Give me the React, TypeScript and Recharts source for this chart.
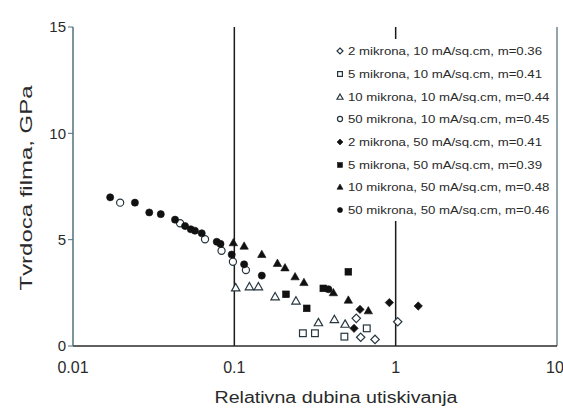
import React from 'react'
import { ScatterChart, Scatter, XAxis, YAxis, ReferenceLine } from 'recharts'

// x = relative indentation depth, y = film hardness (GPa)
const open2um10 = [
  { x: 0.57, y: 1.3 },
  { x: 0.607, y: 0.41 },
  { x: 0.745, y: 0.31 },
  { x: 1.03, y: 1.14 },
]
const open5um10 = [
  { x: 0.266, y: 0.6 },
  { x: 0.316, y: 0.6 },
  { x: 0.481, y: 0.44 },
  { x: 0.662, y: 0.83 },
]
const open10um10 = [
  { x: 0.102, y: 2.74 },
  { x: 0.124, y: 2.79 },
  { x: 0.141, y: 2.79 },
  { x: 0.179, y: 2.32 },
  { x: 0.241, y: 2.12 },
  { x: 0.332, y: 1.1 },
  { x: 0.417, y: 1.25 },
  { x: 0.486, y: 1.03 },
]
const open50um10 = [
  { x: 0.0196, y: 6.74 },
  { x: 0.0461, y: 5.77 },
  { x: 0.0658, y: 5.02 },
  { x: 0.0833, y: 4.48 },
  { x: 0.098, y: 3.96 },
  { x: 0.118, y: 3.57 },
]
const filled2um50 = [
  { x: 0.552, y: 0.83 },
  { x: 0.601, y: 1.72 },
  { x: 0.914, y: 2.04 },
  { x: 1.38, y: 1.88 },
]
const filled5um50 = [
  { x: 0.209, y: 2.43 },
  { x: 0.281, y: 1.77 },
  { x: 0.356, y: 2.71 },
  { x: 0.509, y: 3.49 },
]
const filled10um50 = [
  { x: 0.0986, y: 4.86 },
  { x: 0.115, y: 4.7 },
  { x: 0.148, y: 4.31 },
  { x: 0.185, y: 3.89 },
  { x: 0.206, y: 3.68 },
  { x: 0.238, y: 3.26 },
  { x: 0.27, y: 2.99 },
  { x: 0.411, y: 2.51 },
  { x: 0.509, y: 2.16 },
  { x: 0.677, y: 1.66 },
]
const filled50um50 = [
  { x: 0.017, y: 6.99 },
  { x: 0.0242, y: 6.74 },
  { x: 0.0297, y: 6.28 },
  { x: 0.035, y: 6.2 },
  { x: 0.0429, y: 5.94 },
  { x: 0.0495, y: 5.64 },
  { x: 0.0537, y: 5.49 },
  { x: 0.057, y: 5.42 },
  { x: 0.0628, y: 5.3 },
  { x: 0.0778, y: 4.9 },
  { x: 0.0821, y: 4.8 },
  { x: 0.0963, y: 4.3 },
  { x: 0.115, y: 3.84 },
  { x: 0.148, y: 3.31 },
  { x: 0.383, y: 2.67 },
]

const xTicks = [0.01, 0.1, 1, 10]
const xTickLabels = ['0.01', '0.1', '1', '10']
const yTicks = [0, 5, 10, 15]

const legendLabels = [
  '2 mikrona, 10 mA/sq.cm, m=0.36',
  '5 mikrona, 10 mA/sq.cm, m=0.41',
  '10 mikrona, 10 mA/sq.cm, m=0.44',
  '50 mikrona, 10 mA/sq.cm, m=0.45',
  '2 mikrona, 50 mA/sq.cm, m=0.41',
  '5 mikrona, 50 mA/sq.cm, m=0.39',
  '10 mikrona, 50 mA/sq.cm, m=0.48',
  '50 mikrona, 50 mA/sq.cm, m=0.46',
]

type Kind = 'diamond' | 'square' | 'triangle' | 'circle'

const INK = '#111111'
const OUTLINE = '#26353d'
const font = 'Liberation Sans, Arial, sans-serif'

function marker(kind: Kind, filled: boolean, cx: number, cy: number, s: number) {
  const fill = filled ? INK : '#ffffff'
  const stroke = filled ? INK : OUTLINE
  const sw = filled ? 0.6 : 1.2
  if (kind === 'circle') return <circle cx={cx} cy={cy} r={s * 0.85} fill={fill} stroke={stroke} strokeWidth={sw} />
  if (kind === 'square')
    return <rect x={cx - s * 0.8} y={cy - s * 0.8} width={s * 1.6} height={s * 1.6} fill={fill} stroke={stroke} strokeWidth={sw} />
  if (kind === 'triangle') {
    const h = s * 1.0
    return (
      <polygon
        points={`${cx},${cy - h} ${cx + h},${cy + h * 0.75} ${cx - h},${cy + h * 0.75}`}
        fill={fill}
        stroke={stroke}
        strokeWidth={sw}
      />
    )
  }
  return (
    <polygon
      points={`${cx},${cy - s} ${cx + s},${cy} ${cx},${cy + s} ${cx - s},${cy}`}
      fill={fill}
      stroke={stroke}
      strokeWidth={sw}
    />
  )
}

const series: { data: { x: number; y: number }[]; kind: Kind; filled: boolean }[] = [
  { data: open2um10, kind: 'diamond', filled: false },
  { data: open5um10, kind: 'square', filled: false },
  { data: open10um10, kind: 'triangle', filled: false },
  { data: open50um10, kind: 'circle', filled: false },
  { data: filled2um50, kind: 'diamond', filled: true },
  { data: filled5um50, kind: 'square', filled: true },
  { data: filled10um50, kind: 'triangle', filled: true },
  { data: filled50um50, kind: 'circle', filled: true },
]

function LegendBox() {
  return (
    <div
      style={{
        position: 'absolute',
        left: 332,
        top: 39,
        width: 224,
        height: 182,
        background: '#ffffff',
        paddingTop: 1,
        boxSizing: 'border-box',
      }}
    >
      {legendLabels.map((label, i) => (
        <div key={label} style={{ height: 22.7, display: 'flex', alignItems: 'center' }}>
          <svg width={14} height={12} style={{ flex: 'none' }}>
            {marker(series[i].kind, series[i].filled, 8, 6, 3)}
          </svg>
          <span
            style={{
              fontFamily: font,
              fontSize: 11,
              color: '#2a2a2a',
              whiteSpace: 'nowrap',
              display: 'inline-block',
              transform: 'scaleX(1.2)',
              transformOrigin: 'left center',
              marginLeft: 2,
            }}
          >
            {label}
          </span>
        </div>
      ))}
    </div>
  )
}

export default function App() {
  return (
    <div style={{ position: 'absolute', left: 0, top: 0, width: 563, height: 408, background: '#fff', overflow: 'hidden' }}>
      <ScatterChart width={563} height={408} margin={{ top: 27, right: 6, bottom: 22, left: 0 }}>
        <XAxis
          type="number"
          dataKey="x"
          scale="log"
          domain={[0.01, 10]}
          ticks={xTicks}
          allowDataOverflow
          height={40}
          tickLine={false}
          tickSize={6}
          tickMargin={10}
          tickFormatter={(v: number) => xTickLabels[xTicks.indexOf(v)] ?? String(v)}
          axisLine={{ stroke: '#2b2b2b', strokeWidth: 1.5 }}
          tick={{ fontSize: 16, fill: '#2a2a2a', fontFamily: font }}
        />
        <YAxis
          type="number"
          dataKey="y"
          domain={[0, 15]}
          ticks={yTicks}
          width={73}
          tickSize={5}
          tickMargin={2}
          axisLine={{ stroke: '#51707e', strokeWidth: 1.5 }}
          tickLine={{ stroke: '#51707e' }}
          tick={{ fontSize: 15, fill: '#2a2a2a', fontFamily: font }}
        />
        <ReferenceLine x={0.1} stroke="#1a1a1a" strokeWidth={1.5} />
        <ReferenceLine x={1} stroke="#1a1a1a" strokeWidth={1.5} />
        <ReferenceLine x={10} stroke="#6f8792" strokeWidth={1.5} />
        {series.map((s, i) => (
          <Scatter
            key={i}
            name={legendLabels[i]}
            data={s.data}
            isAnimationActive={false}
            shape={(p: any) => marker(s.kind, s.filled, p.cx, p.cy, 4.2)}
          />
        ))}
      </ScatterChart>
      <LegendBox />
      <svg width={563} height={408} style={{ position: 'absolute', left: 0, top: 0, pointerEvents: 'none' }}>
        <text
          x={336}
          y={403}
          textAnchor="middle"
          fontFamily={font}
          fontSize={16}
          fill="#2a2a2a"
          textLength={243}
          lengthAdjust="spacingAndGlyphs"
        >
          Relativna dubina utiskivanja
        </text>
        <text
          transform="translate(32,188) rotate(-90)"
          textAnchor="middle"
          fontFamily={font}
          fontSize={17}
          fill="#2a2a2a"
          textLength={205}
          lengthAdjust="spacingAndGlyphs"
        >
          Tvrdoca filma, GPa
        </text>
      </svg>
    </div>
  )
}
